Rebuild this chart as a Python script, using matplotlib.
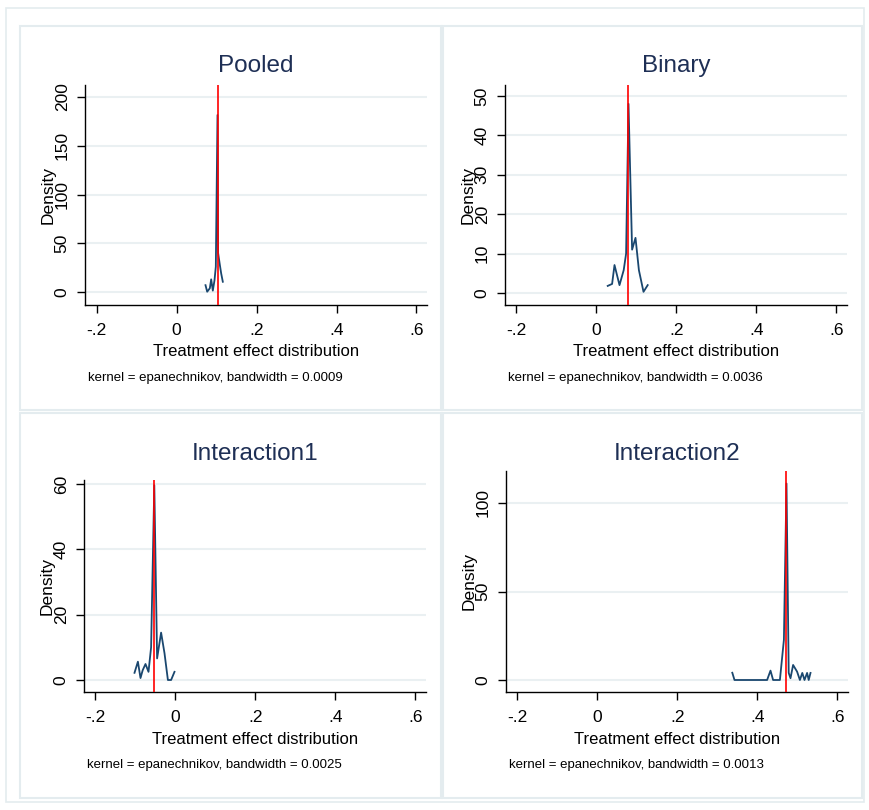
import numpy as np
import matplotlib.pyplot as plt
from matplotlib.patches import Rectangle

plt.rcParams['font.family'] = ['Liberation Sans Narrow', 'Liberation Sans', 'DejaVu Sans']

# data
titles = ['Pooled', 'Binary', 'Interaction1', 'Interaction2']
bandwidths = ['0.0009', '0.0036', '0.0025', '0.0013']
true_effect = [0.1025, 0.08, -0.0525, 0.4725]

pooled_x = [0.0725, 0.0767, 0.0833, 0.0867, 0.0908, 0.095, 0.0983, 0.1025, 0.104, 0.1083, 0.1117, 0.1158]
pooled_y = [7, 0.3, 3.8, 13, 1.4, 12, 26, 181.5, 40, 28, 19, 10.5]

binary_x = [0.028, 0.039, 0.045, 0.0575, 0.068, 0.074, 0.08, 0.089, 0.0975, 0.106, 0.1175, 0.128]
binary_y = [1.8, 2.3, 7.1, 2.0, 5.8, 10, 48, 11, 14, 5.8, 0.3, 2.0]

inter1_x = [-0.1025, -0.094, -0.0875, -0.082, -0.075, -0.0675, -0.061, -0.053, -0.046, -0.036, -0.0275, -0.019, -0.011, -0.0025]
inter1_y = [2.2, 5.6, 0.6, 3.0, 4.9, 2.5, 10, 59.6, 6.6, 14.5, 8.2, 0, 0, 2.5]

inter2_x = [0.337, 0.3425, 0.424, 0.4325, 0.439, 0.456, 0.466, 0.4725, 0.478, 0.4825, 0.489, 0.499, 0.506, 0.512, 0.5175, 0.524, 0.528, 0.5325]
inter2_y = [4.1, 0, 0, 5.3, 0, 0, 22.7, 111, 4, 1, 8.5, 4.7, 0, 4, 0, 4, 0, 4]

curves = [(pooled_x, pooled_y), (binary_x, binary_y), (inter1_x, inter1_y), (inter2_x, inter2_y)]
yticks = [[0, 50, 100, 150, 200], [0, 10, 20, 30, 40, 50], [0, 20, 40, 60], [0, 50, 100]]
xticks = [-0.2, 0, 0.2, 0.4, 0.6]
xticklabels = ['-.2', '0', '.2', '.4', '.6']

W, H = 870, 810
fig = plt.figure(figsize=(W / 100, H / 100), dpi=100)
fig.patch.set_facecolor('white')

frame_col = '#e4ecef'
grid_col = '#eaf0f2'
navy = '#1a476f'
title_col = '#1e2f55'


def px_rect(x0, y0, x1, y1):
    return [x0 / W, 1 - y1 / H, (x1 - x0) / W, (y1 - y0) / H]


def ftext(x, y, s, **kw):
    fig.text(x / W, 1 - y / H, s, **kw)


# outer frame and panel frames
bg = fig.add_axes([0, 0, 1, 1])
bg.set_xlim(0, W)
bg.set_ylim(H, 0)
bg.axis('off')
bg.add_patch(Rectangle((6, 8), 858, 794, fill=False, ec=frame_col, lw=1.2))
for (x0, y0, x1, y1) in [(20, 26, 441, 410), (443, 26, 862, 410),
                         (20, 413, 441, 798), (443, 413, 862, 798)]:
    bg.add_patch(Rectangle((x0, y0), x1 - x0, y1 - y0, fill=False, ec=frame_col, lw=1.5))

# axes boxes in pixels: left, top, bottom, zero pixel, pixels per unit, title y
boxes = [(85, 85, 305, 292, 0.975, 66),
         (505, 85, 305, 293, 3.94, 66),
         (84, 480, 692, 680, 3.267, 454),
         (506, 471, 692, 680, 1.77, 454)]

for i, (l, t, b, y0px, scale, ty) in enumerate(boxes):
    r = l + 342
    ax = fig.add_axes(px_rect(l, t, r, b))
    ax.set_xlim(-0.2 - 11.5 / 400, -0.2 - 11.5 / 400 + 342 / 400)
    ax.set_ylim((y0px - b) / scale, (y0px - t) / scale)
    for s in ['top', 'right']:
        ax.spines[s].set_visible(False)
    for s in ['left', 'bottom']:
        ax.spines[s].set_linewidth(1.0)
        ax.spines[s].set_color('black')
    ax.set_yticks(yticks[i])
    ax.set_yticklabels([str(v) for v in yticks[i]], rotation=90, va='center', fontsize=12.5)
    ax.set_xticks(xticks)
    ax.set_xticklabels(xticklabels, fontsize=12.5)
    ax.tick_params(axis='x', length=6, width=1.0, pad=7)
    ax.tick_params(axis='y', length=6, width=1.0, pad=5)
    for v in yticks[i]:
        ax.axhline(v, color=grid_col, lw=1.5, zorder=0)
    xs, ys = curves[i]
    ax.plot(xs, ys, color=navy, lw=1.3, zorder=2)
    ax.axvline(true_effect[i], color='red', lw=1.2, zorder=3)

    ftext(l + 171, ty, titles[i], fontsize=17.5, color=title_col, ha='center', va='center')
    ftext(l + 171, b + 47, 'Treatment effect distribution', fontsize=12, ha='center', va='center')
    ftext(l - 37, (t + b) / 2, 'Density', fontsize=12.5, rotation=90, ha='center', va='center')
    ftext(l + 3, b + 73, 'kernel = epanechnikov, bandwidth = ' + bandwidths[i],
          fontsize=9.5, ha='left', va='center')

fig.savefig('out.png', dpi=100)
